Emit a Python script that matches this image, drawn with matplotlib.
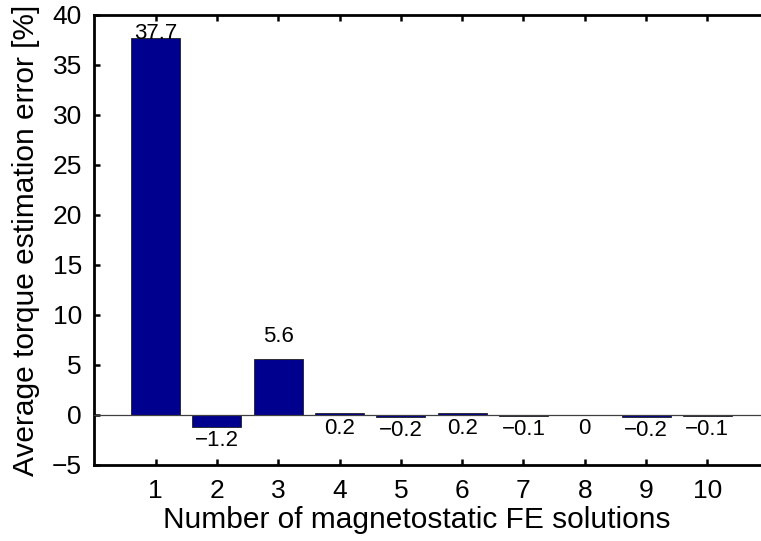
import matplotlib
matplotlib.use("Agg")
import matplotlib.pyplot as plt

# Average torque estimation error per number of magnetostatic FE solutions
n_solutions = [1, 2, 3, 4, 5, 6, 7, 8, 9, 10]
avg_error = [37.7, -1.2, 5.6, 0.2, -0.2, 0.2, -0.1, 0.0, -0.2, -0.1]
y_ticks = [-5, 0, 5, 10, 15, 20, 25, 30, 35, 40]

plt.rcParams["font.family"] = ["Liberation Sans", "DejaVu Sans"]

fig = plt.figure(figsize=(7.61, 5.41), dpi=100)
# axes box runs slightly past the right edge of the canvas
ax = fig.add_axes([0.124, 0.1405, 0.886, 0.8318])

ax.bar(n_solutions, avg_error, width=0.8, color="#00008F",
       edgecolor="#202020", linewidth=0.6, zorder=2)
ax.axhline(0, color="#404040", linewidth=0.9, zorder=3)

ax.set_xlim(0, 11)
ax.set_ylim(-5, 40)
ax.set_xticks(n_solutions)
ax.set_yticks(y_ticks)
ax.set_yticklabels([str(t).replace("-", "\u2212") for t in y_ticks])

for s in ax.spines.values():
    s.set_linewidth(2.0)
ax.tick_params(direction="in", length=4, width=1.8, labelsize=19,
               top=True, right=True)
ax.tick_params(axis="x", pad=10)
ax.tick_params(axis="y", pad=9)

ax.set_xlabel("Number of magnetostatic FE solutions", fontsize=21.5)
ax.set_ylabel("Average torque estimation error [%]", fontsize=21.5)
ax.xaxis.set_label_coords(0.478, -0.092)
ax.yaxis.set_label_coords(-0.080, 0.5)

ytop = ax.get_ylim()[1]
for x, v in zip(n_solutions, avg_error):
    txt = f"{v:g}".replace("-", "\u2212")
    if v > 1:
        y = min(v + 1.2, ytop - 2.9)
        ax.text(x, y, txt, ha="center", va="bottom", fontsize=16,
                zorder=4, clip_on=False)
    else:
        y = min(v, 0) - 0.3
        ax.text(x, y, txt, ha="center", va="top", fontsize=16, zorder=4)

fig.savefig("out.png", dpi=100)
